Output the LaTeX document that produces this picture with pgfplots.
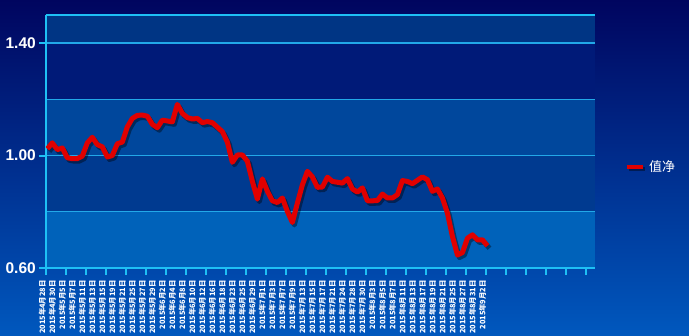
\documentclass[border=0pt]{standalone}
\usepackage{pgfplots}
\usepackage{pgfplotstable}
\pgfplotsset{compat=1.18}
\usepackage{fontspec}
\setmainfont{Liberation Sans}
\newfontfamily\cjk{Noto Sans CJK SC}
\definecolor{bgtop}{HTML}{00055F}
\definecolor{bgbot}{HTML}{0058BE}
\definecolor{bandA}{HTML}{003584}
\definecolor{bandB}{HTML}{001A78}
\definecolor{bandC}{HTML}{00479C}
\definecolor{bandD}{HTML}{003A90}
\definecolor{bandE}{HTML}{0062BA}
\definecolor{axcyan}{HTML}{1EC0F5}
\definecolor{gridcyan}{HTML}{22A8E8}
\definecolor{lred}{HTML}{E00000}
\pgfplotstableread{
x y
0 1.024
1 1.045
2 1.021
3 1.027
4 0.992
5 0.989
6 0.989
7 0.998
8 1.045
9 1.065
10 1.039
11 1.031
12 0.995
13 1.000
14 1.042
15 1.048
16 1.102
17 1.132
18 1.143
19 1.144
20 1.140
21 1.111
22 1.099
23 1.126
24 1.123
25 1.120
26 1.182
27 1.150
28 1.135
29 1.130
30 1.132
31 1.117
32 1.121
33 1.117
34 1.101
35 1.085
36 1.048
37 0.976
38 1.002
39 1.002
40 0.980
41 0.908
42 0.845
43 0.917
44 0.873
45 0.839
46 0.833
47 0.849
48 0.801
49 0.762
50 0.831
51 0.896
52 0.944
53 0.924
54 0.887
55 0.888
56 0.923
57 0.908
58 0.905
59 0.902
60 0.918
61 0.881
62 0.870
63 0.885
64 0.839
65 0.839
66 0.840
67 0.863
68 0.849
69 0.849
70 0.861
71 0.911
72 0.908
73 0.900
74 0.912
75 0.924
76 0.914
77 0.873
78 0.881
79 0.849
80 0.795
81 0.712
82 0.646
83 0.655
84 0.706
85 0.718
86 0.700
87 0.700
88 0.679
}\navdata
\begin{document}
\begin{tikzpicture}[x=1pt,y=1pt]
\shade[top color=bgtop,bottom color=bgbot] (0,0) rectangle (689,336);
\fill[bandA] (46,293) rectangle (595,321);
\fill[bandB] (46,236) rectangle (595,293);
\fill[bandC] (46,180) rectangle (595,236);
\fill[bandD] (46,124) rectangle (595,180);
\fill[bandE] (46,68) rectangle (595,124);
\begin{axis}[
  at={(46pt,68pt)}, anchor=south west,
  scale only axis, width=549pt, height=253pt,
  xmin=-0.26, xmax=109.5, ymin=0.6, ymax=1.5,
  axis lines=left,
  axis line style={-, draw=axcyan, line width=2pt},
  tick align=outside, major tick length=7pt, minor tick length=0pt,
  every tick/.style={draw=axcyan, line width=2pt},
  xtick={-0.26,3.74,...,108}, xticklabels={},
  ytick={0.6,1.0,1.4}, yticklabels={0.60,1.00,1.40},
  minor ytick={0.8,1.2},
  extra y ticks={1.5}, extra y tick labels={},
  extra y tick style={major tick length=0pt, grid=major, major grid style={draw=axcyan, line width=1.8pt}},
  ymajorgrids, yminorgrids,
  major grid style={draw=gridcyan, line width=1.4pt},
  minor grid style={draw=gridcyan, line width=1.4pt},
  yticklabel style={font=\bfseries\fontsize{15.5}{16}\selectfont, text=white, inner sep=0pt, xshift=-3pt},
  extra x ticks={0,2,...,88},
  extra x tick labels={2015年4月28日,2015年4月30日,2015年5月5日,2015年5月7日,2015年5月11日,2015年5月13日,2015年5月15日,2015年5月19日,2015年5月21日,2015年5月25日,2015年5月27日,2015年5月29日,2015年6月2日,2015年6月4日,2015年6月8日,2015年6月10日,2015年6月12日,2015年6月16日,2015年6月18日,2015年6月23日,2015年6月25日,2015年6月29日,2015年7月1日,2015年7月3日,2015年7月7日,2015年7月9日,2015年7月13日,2015年7月15日,2015年7月17日,2015年7月21日,2015年7月24日,2015年7月28日,2015年7月30日,2015年8月3日,2015年8月5日,2015年8月7日,2015年8月11日,2015年8月13日,2015年8月17日,2015年8月19日,2015年8月21日,2015年8月25日,2015年8月27日,2015年8月31日,2015年9月2日},
  extra x tick style={major tick length=0pt, grid=none},
  xticklabel style={font=\cjk\bfseries\fontsize{7.4}{8}\selectfont, text=white, xshift=-5pt, yshift=-12pt, rotate=90, anchor=east, inner sep=0pt},
  legend style={at={(1.0546,0.40)}, anchor=west, draw=none, fill=none, inner sep=0pt,
    font=\cjk\fontsize{13}{14}\selectfont, text=white},
  legend image code/.code={
    \draw[black,opacity=0.4,line width=4pt] (2pt,-2pt) -- (18pt,-2pt);
    \draw[lred,line width=4pt] (0pt,0pt) -- (16pt,0pt);},
]
\addplot[forget plot, black, opacity=0.4, line width=5pt, line join=round, xshift=2pt, yshift=-2.5pt] table[x=x,y=y] {\navdata};
\addplot[lred, line width=5pt, line join=round, no marks] table[x=x,y=y] {\navdata};
\addlegendentry{值净}
\end{axis}
\pgfresetboundingbox
\useasboundingbox (0,0) rectangle (689,336);
\end{tikzpicture}
\end{document}
